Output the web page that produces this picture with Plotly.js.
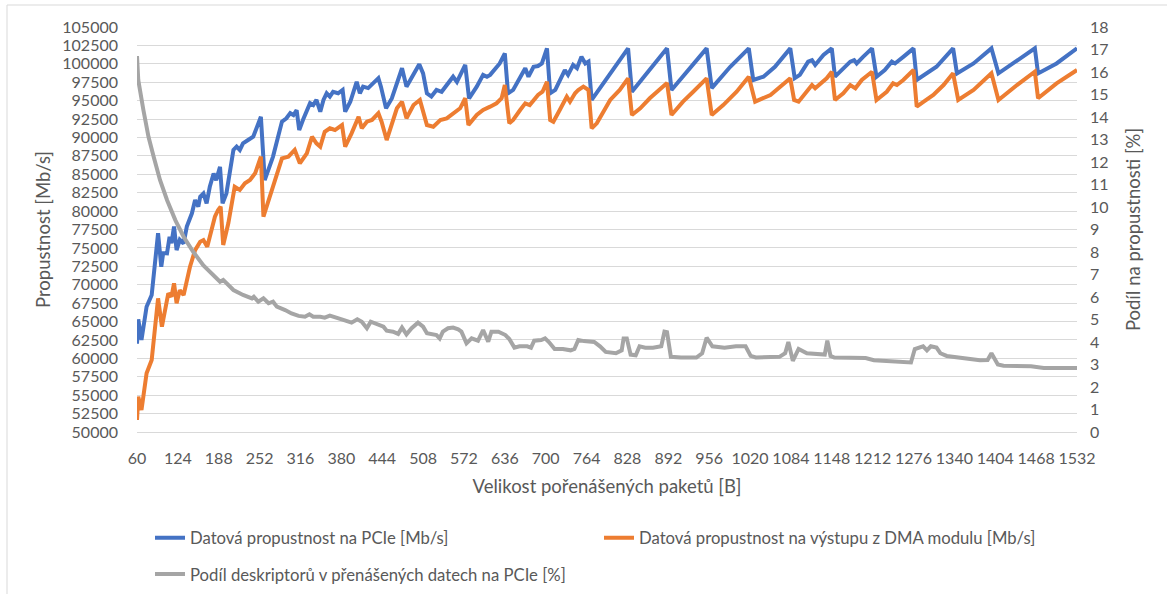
<!DOCTYPE html>
<html>
<head>
<meta charset="utf-8">
<script src="https://cdn.plot.ly/plotly-3.0.1.min.js"></script>
<style>html,body{margin:0;padding:0;background:#fff;}#chart{width:1167px;height:594px;}</style>
</head>
<body>
<div id="chart"></div>
<script>
// Packet sizes [B] (x) and PCIe throughput [Mb/s]
const pcieBytes = [60,62,67,75,83,93,98,101,107,111,114,118,122,127,133,138,146,151,156,159,164,169,174,180,184,190,194,200,211,216,221,226,234,242,250,254,260,273,287,294,300,305,310,314,320,331,336,341,347,352,357,362,367,375,382,386,394,404,409,414,422,430,438,442,450,459,475,482,493,502,508,514,521,529,537,548,555,561,574,580,592,602,608,613,621,628,636,641,649,660,668,673,681,688,694,702,707,715,722,730,735,743,749,756,762,767,772,801,829,835,858,890,897,921,952,960,989,1018,1025,1041,1059,1083,1090,1098,1111,1117,1122,1135,1148,1153,1166,1177,1183,1187,1197,1211,1218,1231,1242,1247,1260,1276,1281,1312,1338,1344,1370,1398,1409,1432,1466,1471,1500,1532];
const pcieThroughput = [62000,65300,62500,67000,68600,77000,72450,74300,74250,76500,75650,77900,74700,76100,75600,77900,79700,81500,80600,81950,82400,81050,83300,85100,84200,86000,81050,82400,88300,88750,88300,89200,89650,90100,91900,92800,84200,87400,92150,92600,93300,93050,93700,91000,92400,94650,94400,95100,93500,95100,96000,95550,96200,96000,96450,93500,94850,97550,96000,96900,96700,97350,98050,96900,93950,95300,99400,96900,98500,99950,98700,96000,95550,96450,96200,97350,98250,97550,99850,95300,96900,98500,98250,98500,99400,100050,101400,96000,96450,98250,99400,98250,99600,99700,100050,102100,96000,96450,97800,99150,98500,99850,99400,100950,100050,100300,95100,98700,102100,96200,98700,102100,96450,98950,102100,96700,99600,102100,97800,98250,99600,102100,98050,98500,100300,100500,99850,101200,102100,98250,99400,100300,100500,100050,100950,102100,98250,99150,100300,100050,100950,102100,97800,99600,102100,98700,100050,102100,98700,100050,102100,98700,100050,102100];

// Packet sizes [B] and DMA output throughput [Mb/s]
const dmaBytes = [60,62,67,75,83,93,99,104,109,114,118,122,127,133,143,151,159,164,170,174,182,187,191,195,203,213,221,229,237,245,254,258,273,287,297,307,315,326,334,341,347,354,362,370,381,386,396,407,412,420,428,438,443,451,467,475,482,493,503,514,524,535,545,555,566,574,579,592,602,613,623,631,636,643,649,660,668,675,688,695,702,707,712,722,733,738,746,751,759,767,772,780,801,816,829,835,848,863,890,897,915,931,952,960,978,999,1018,1028,1052,1083,1089,1096,1109,1117,1122,1140,1148,1153,1166,1177,1185,1195,1211,1218,1234,1244,1250,1260,1276,1281,1292,1307,1323,1338,1346,1370,1398,1409,1438,1466,1471,1500,1532];
const dmaThroughput = [51630,54800,53000,57970,59780,68150,64300,66570,68840,68380,70190,67480,69250,68600,72450,74700,75850,76070,75160,76500,79240,80150,80600,75400,78340,83300,82870,83770,84220,85130,87400,79240,83300,87170,87400,88300,86500,87850,90100,89200,88750,90780,91240,91010,91690,88750,90560,92820,91240,92140,92370,93280,92140,89650,93960,94860,92600,94400,95090,91690,91460,92370,92600,93280,93960,95320,91690,93050,93730,94180,94640,95320,97120,91920,92370,93730,94640,94400,95770,96210,97570,92370,92140,93730,95530,94860,96000,96450,96900,96450,91240,91920,95090,96450,98030,93050,93960,95320,97400,93050,94860,96210,98030,93050,94400,96210,98250,94860,95770,98030,95090,94860,96210,97120,96670,98030,98930,95090,96000,97120,96670,97800,98930,95090,96210,97350,97120,97800,99160,94180,94860,95770,97120,98710,95090,96450,98710,95090,97120,98930,95320,97350,99160];

// Packet sizes [B] and descriptor share in PCIe data [%]
const descBytes = [60,62,70,78,86,96,107,120,133,148,164,179,190,195,211,226,240,243,250,258,266,273,279,292,302,313,323,330,336,347,354,362,373,383,396,405,412,420,426,435,446,451,461,469,475,482,490,500,508,514,529,534,539,547,555,563,568,576,584,594,602,610,615,626,637,643,651,659,671,677,682,693,699,705,714,727,739,745,751,760,776,785,794,810,819,822,827,833,841,847,856,868,881,886,890,896,912,936,945,952,961,980,998,1013,1021,1029,1047,1066,1075,1080,1087,1096,1109,1137,1141,1146,1152,1201,1214,1245,1272,1278,1291,1297,1303,1312,1318,1328,1362,1380,1392,1398,1408,1417,1460,1480,1532];
const descShare = [16.71,15.64,14.31,13.12,12.24,11.2,10.31,9.42,8.68,8.01,7.4,7.0,6.68,6.76,6.31,6.09,5.94,6.01,5.79,5.94,5.72,5.79,5.57,5.42,5.27,5.16,5.12,5.23,5.12,5.12,5.08,5.17,5.05,4.98,4.86,5.01,4.9,4.61,4.9,4.8,4.68,4.5,4.46,4.36,4.64,4.34,4.61,4.86,4.68,4.39,4.31,4.16,4.46,4.61,4.64,4.56,4.46,3.94,4.16,4.06,4.53,4.01,4.46,4.46,4.31,4.13,3.75,3.81,3.81,3.75,4.06,4.09,4.16,4.0,3.69,3.69,3.63,3.69,4.09,4.04,4.0,3.81,3.56,3.5,3.63,4.16,4.16,3.44,3.41,3.81,3.75,3.75,3.81,4.46,4.44,3.34,3.31,3.31,3.5,4.19,3.81,3.75,3.81,3.81,3.38,3.31,3.31,3.34,3.5,4.0,3.16,3.69,3.5,3.44,4.06,3.38,3.31,3.29,3.19,3.13,3.09,3.69,3.81,3.63,3.81,3.75,3.5,3.38,3.25,3.19,3.2,3.5,3.0,2.95,2.92,2.85,2.85];

const packetTicks = [60,124,188,252,316,380,444,508,572,636,700,764,828,892,956,1020,1084,1148,1212,1276,1340,1404,1468,1532];

const seriesNames = [
  'Datová propustnost na PCIe [Mb/s]',
  'Datová propustnost na výstupu z DMA modulu [Mb/s]',
  'Podíl deskriptorů v přenášených datech na PCIe [%]'
];

const FONT = 'Lato, "Open Sans", sans-serif';
const TXT = '#595959';
const GRID = '#d9d9d9';

const traces = [
  {x: pcieBytes, y: pcieThroughput, name: seriesNames[0], type: 'scatter', mode: 'lines',
   line: {color: '#4472C4', width: 4}, legend: 'legend'},
  {x: dmaBytes, y: dmaThroughput, name: seriesNames[1], type: 'scatter', mode: 'lines',
   line: {color: '#ED7D31', width: 4}, legend: 'legend3'},
  {x: descBytes, y: descShare, name: seriesNames[2], type: 'scatter', mode: 'lines', yaxis: 'y2',
   line: {color: '#A5A5A5', width: 4}, legend: 'legend2'}
];

const legendBase = {
  orientation: 'h', xanchor: 'left', yanchor: 'middle',
  font: {size: 16.7, color: TXT}, bgcolor: 'rgba(0,0,0,0)'
};

const layout = {
  width: 1167, height: 594,
  margin: {l: 137, r: 90, t: 27, b: 162, autoexpand: false},
  paper_bgcolor: '#fff', plot_bgcolor: '#fff',
  font: {family: FONT, color: TXT, size: 16},
  showlegend: true,
  xaxis: {
    range: [60, 1532], tickmode: 'array', tickvals: packetTicks, ticktext: packetTicks.map(String),
    showgrid: false, zeroline: false, showline: true, linecolor: GRID, linewidth: 1,
    ticks: '', ticklabelstandoff: 12, tickfont: {size: 16, color: TXT},
    title: {text: 'Velikost pořenášených paketů [B]', font: {size: 18.5, color: TXT}, standoff: 13},
    automargin: false
  },
  yaxis: {
    range: [50000, 105000], dtick: 2500, tick0: 50000, tickformat: 'd',
    showgrid: true, gridcolor: GRID, gridwidth: 1, zeroline: false, showline: false,
    ticks: '', ticklabelstandoff: 18, tickfont: {size: 16, color: TXT},
    title: {text: 'Propustnost [Mb/s]', font: {size: 18.5, color: TXT}, standoff: 6},
    automargin: false
  },
  yaxis2: {
    overlaying: 'y', side: 'right', range: [0, 18], dtick: 1, tick0: 0,
    showgrid: false, zeroline: false, showline: false,
    ticks: '', ticklabelstandoff: 12, tickfont: {size: 16, color: TXT},
    title: {text: 'Podíl na propustnosti [%]', font: {size: 18.5, color: TXT}, standoff: 19},
    automargin: false
  },
  legend: Object.assign({}, legendBase, {x: (150 - 137) / 940, y: -0.2617}),
  legend3: Object.assign({}, legendBase, {x: (599 - 137) / 940, y: -0.2617}),
  legend2: Object.assign({}, legendBase, {x: (150 - 137) / 940, y: -0.351}),
  shapes: [{
    type: 'rect', xref: 'paper', yref: 'paper',
    x0: (7 - 137) / 940, x1: (1180 - 137) / 940,
    y0: (432 - 600) / 405, y1: (432 - 5) / 405,
    line: {color: GRID, width: 1}, fillcolor: 'rgba(0,0,0,0)', layer: 'below'
  }]
};

Plotly.newPlot('chart', traces, layout, {staticPlot: true, displayModeBar: false});
</script>
</body>
</html>
